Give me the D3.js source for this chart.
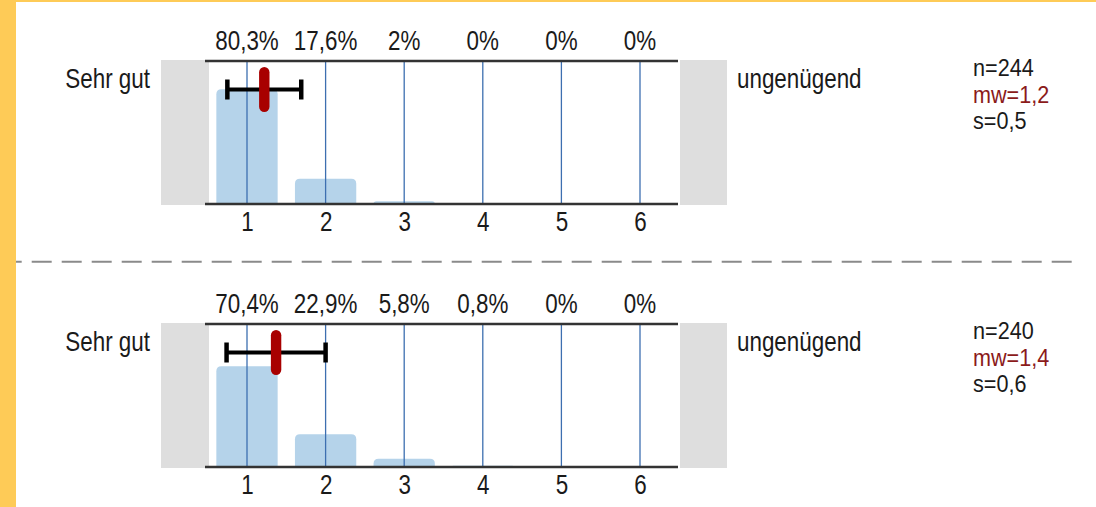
<!DOCTYPE html>
<html>
<head>
<meta charset="utf-8">
<script src="https://cdn.jsdelivr.net/npm/d3@7"></script>
<style>
  html, body { margin: 0; padding: 0; background: #fff; }
  svg text { font-family: "Liberation Sans", Arial, sans-serif; fill: #1a1a1a; }
</style>
</head>
<body>
<div id="chart"></div>
<script>
// grade scale 1..6
var categories = [1, 2, 3, 4, 5, 6];
// percent per grade, one array per question
var percents1 = [80.3, 17.6, 2, 0, 0, 0];
var percents2 = [70.4, 22.9, 5.8, 0.8, 0, 0];
// summary values
var nValues = [244, 240];
var meanValues = [1.22, 1.37];
var sdValues = [0.47, 0.63];
var leftLabel = "Sehr gut";
var rightLabel = "ungenügend";

var width = 1096, height = 507;
var panelTops = [61, 324]; // y of the top rule of each panel
var panelHeight = 143;
var squeeze = 0.83; // the original font is a narrow one

var svg = d3.select("#chart").append("svg")
    .attr("width", width)
    .attr("height", height);

// yellow frame (top and left)
svg.append("rect").attr("x", 0).attr("y", 0).attr("width", width).attr("height", 2).attr("fill", "#fecb57");
svg.append("rect").attr("x", 0).attr("y", 0).attr("width", 16).attr("height", height).attr("fill", "#fecb57");

var x = d3.scaleLinear().domain([0.5, 6.5]).range([207.7, 679.3]);
var step = x(2) - x(1);
var barW = step * 0.78;

function comma(v) { return String(v).replace(".", ","); }
var fmt1 = function(v) { return d3.format(".1f")(v).replace(".", ","); };

// text drawn squeezed horizontally, anchored at (tx, ty)
function label(parent, tx, ty, str, size, anchor, sx) {
    var t = parent.append("g")
        .attr("transform", "translate(" + tx + "," + ty + ") scale(" + (sx || squeeze) + ",1)")
        .append("text")
        .attr("font-size", size)
        .attr("text-anchor", anchor || "start")
        .text(str);
    return t;
}

function drawPanel(values, idx) {
    var top = panelTops[idx];
    var bottom = top + panelHeight;
    var y = d3.scaleLinear().domain([0, 100]).range([bottom, top]);
    var g = svg.append("g");

    // grey end boxes
    g.append("rect").attr("x", 161).attr("y", top - 1).attr("width", 48).attr("height", panelHeight + 2).attr("fill", "#dedede");
    g.append("rect").attr("x", 680).attr("y", top - 1).attr("width", 47).attr("height", panelHeight + 2).attr("fill", "#dedede");

    // bars with rounded tops
    g.selectAll("path.bar")
        .data(values.map(function(v, i) { return { cat: categories[i], v: v }; }).filter(function(d) { return d.v > 0; }))
        .enter().append("path")
        .attr("class", "bar")
        .attr("fill", "#b5d3ea")
        .attr("d", function(d) {
            var x0 = x(d.cat) - barW / 2, x1 = x(d.cat) + barW / 2;
            var y0 = y(d.v), y1 = bottom;
            var r = Math.min(5, (y1 - y0));
            return "M" + x0 + "," + y1 +
                "L" + x0 + "," + (y0 + r) +
                "Q" + x0 + "," + y0 + " " + (x0 + r) + "," + y0 +
                "L" + (x1 - r) + "," + y0 +
                "Q" + x1 + "," + y0 + " " + x1 + "," + (y0 + r) +
                "L" + x1 + "," + y1 + "Z";
        });

    // vertical grid lines
    g.selectAll("line.grid")
        .data(categories)
        .enter().append("line")
        .attr("x1", function(d) { return x(d); })
        .attr("x2", function(d) { return x(d); })
        .attr("y1", top).attr("y2", bottom)
        .attr("stroke", "#3d6fb0").attr("stroke-width", 1.3);

    // top and bottom rules
    [top, bottom].forEach(function(yy) {
        g.append("line").attr("x1", 205).attr("x2", 678).attr("y1", yy).attr("y2", yy)
            .attr("stroke", "#333").attr("stroke-width", 2.5);
    });

    // percent labels on top
    values.forEach(function(v, i) {
        label(g, x(categories[i]), top - 11, comma(v) + "%", 27, "middle");
    });

    // category labels below
    var axis = d3.axisBottom(x).tickValues(categories).tickSize(0).tickPadding(8).tickFormat(d3.format("d"));
    var ax = g.append("g").attr("transform", "translate(0," + bottom + ")").call(axis);
    ax.select(".domain").remove();
    ax.attr("font-family", null).attr("font-size", null);
    ax.selectAll("text")
        .attr("font-size", 27)
        .attr("y", 27.5).attr("dy", null)
        .attr("transform", "scale(" + squeeze + ",1)")
        .attr("fill", null);

    // end labels
    label(g, 150, top + 26.5, leftLabel, 27, "end");
    label(g, 737, top + 26.5, rightLabel, 27, "start");

    // mean +/- sd
    var m = meanValues[idx], s = sdValues[idx];
    var ey = top + 28.5;
    g.append("line").attr("x1", x(m - s)).attr("x2", x(m + s)).attr("y1", ey).attr("y2", ey)
        .attr("stroke", "#000").attr("stroke-width", 4);
    [m - s, m + s].forEach(function(v) {
        g.append("line").attr("x1", x(v)).attr("x2", x(v)).attr("y1", ey - 10).attr("y2", ey + 10)
            .attr("stroke", "#000").attr("stroke-width", 4.5);
    });
    g.append("rect").attr("x", x(m) - 5.2).attr("y", ey - 22.5).attr("width", 10.4).attr("height", 45)
        .attr("rx", 5.2).attr("ry", 5.2).attr("fill", "#a80000");

    // stats
    label(g, 973, top + 15, "n=" + nValues[idx], 23, "start", 0.94);
    label(g, 973, top + 15 + 26.7, "mw=" + fmt1(m), 23, "start", 0.94).style("fill", "#8b1a1a");
    label(g, 973, top + 15 + 53.4, "s=" + fmt1(s), 23, "start", 0.94);
}

drawPanel(percents1, 0);
drawPanel(percents2, 1);

// dashed separator
svg.append("line").attr("x1", 16).attr("x2", 1078).attr("y1", 261.7).attr("y2", 261.7)
    .attr("stroke", "#8a8a8a").attr("stroke-width", 2)
    .attr("stroke-dasharray", "20,10").attr("stroke-dashoffset", 14.3);
</script>
</body>
</html>
